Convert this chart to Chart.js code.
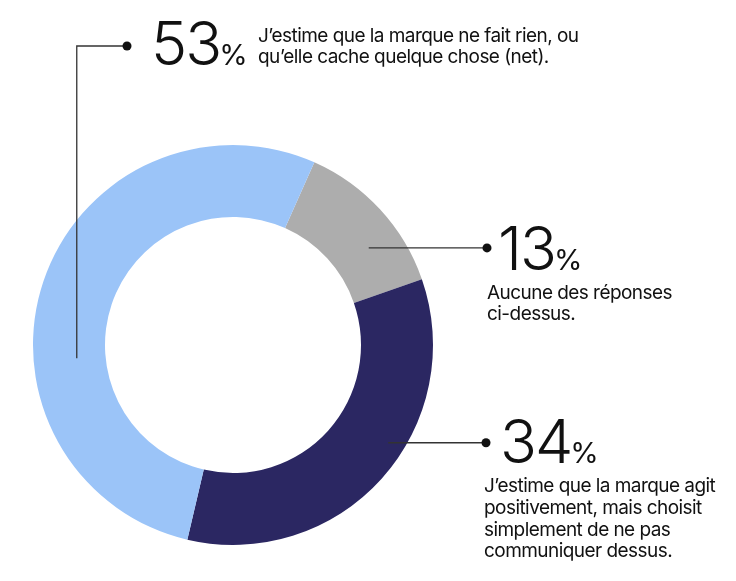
<!DOCTYPE html>
<html><head><meta charset="utf-8">
<script src="https://cdn.jsdelivr.net/npm/chart.js@4/dist/chart.umd.min.js"></script>
<style>
html,body{margin:0;padding:0;background:#fff}
#wrap{width:736px;height:581px;position:relative}
</style>
</head><body><div id="wrap"><canvas id="c" width="736" height="581"></canvas></div>
<script>
// ---- data ----
const categories = [
  "Aucune des réponses ci-dessus.",
  "J’estime que la marque agit positivement, mais choisit simplement de ne pas communiquer dessus.",
  "J’estime que la marque ne fait rien, ou qu’elle cache quelque chose (net)."
];
const values = [13, 34, 53];
const colors = ['#ADADAD', '#2B2762', '#9BC4F8'];
const descriptionLines = [
  ["Aucune des réponses", "ci-dessus."],
  ["J’estime que la marque agit", "positivement, mais choisit", "simplement de ne pas", "communiquer dessus."],
  ["J’estime que la marque ne fait rien, ou", "qu’elle cache quelque chose (net)."]
];

// ---- callout layout (positions / styles only) ----
const callouts = [
  {t:0.65, radial:0.54, dotX:487, numX:498, numY:270, textX:487, textY:299, lh:21},
  {t:0.42, radial:0.77, dotX:486, numX:500, numY:463, textX:484, textY:492, lh:21.8},
  {t:0.377, radial:0.40, elbowY:46, dotX:127, numX:151, numY:65, textX:258, textY:42, lh:21}
];

const FONT = 'Inter, "Noto Sans", sans-serif';

const calloutPlugin = {
  id: 'callouts',
  afterDraw(chart) {
    const ctx = chart.ctx;
    const meta = chart.getDatasetMeta(0);
    meta.data.forEach((arc, i) => {
      const c = callouts[i];
      const p = arc.getProps(['x','y','startAngle','endAngle','innerRadius','outerRadius'], true);
      const a = p.startAngle + c.t * (p.endAngle - p.startAngle);
      const r = p.innerRadius + c.radial * (p.outerRadius - p.innerRadius);
      const ax = p.x + r * Math.cos(a), ay = p.y + r * Math.sin(a);
      ctx.save();
      ctx.strokeStyle = '#333';
      ctx.lineWidth = 1.3;
      ctx.beginPath();
      ctx.moveTo(ax, ay);
      let dy = ay;
      if (c.elbowY !== undefined) {
        ctx.lineTo(ax, c.elbowY);
        ctx.lineTo(c.dotX, c.elbowY);
        dy = c.elbowY;
      } else {
        ctx.lineTo(c.dotX, ay);
      }
      ctx.stroke();
      ctx.fillStyle = '#111';
      ctx.beginPath();
      ctx.arc(c.dotX, dy, 4.5, 0, Math.PI * 2);
      ctx.fill();
      // number
      ctx.textBaseline = 'alphabetic';
      ctx.textAlign = 'left';
      ctx.letterSpacing = '-2px';
      ctx.font = '300 61px ' + FONT;
      const num = String(values[i]);
      ctx.fillText(num, c.numX, c.numY);
      const w = ctx.measureText(num).width;
      ctx.letterSpacing = '0px';
      ctx.font = '400 29px ' + FONT;
      ctx.fillText('%', c.numX + w - 1, c.numY);
      // description
      ctx.letterSpacing = '-0.55px';
      ctx.font = '400 19px ' + FONT;
      descriptionLines[i].forEach((line, k) => {
        ctx.fillText(line, c.textX, c.textY + k * c.lh);
      });
      ctx.restore();
    });
  }
};

new Chart(document.getElementById('c'), {
  type: 'doughnut',
  data: {
    labels: categories,
    datasets: [{
      data: values,
      backgroundColor: colors,
      borderWidth: 0,
      hoverOffset: 0
    }]
  },
  options: {
    responsive: false,
    animation: false,
    rotation: 24,
    cutout: '64%',
    layout: {padding: {left: 33, top: 145, right: 303, bottom: 36}},
    plugins: {legend: {display: false}, tooltip: {enabled: false}}
  },
  plugins: [calloutPlugin]
});
</script>
</body></html>
